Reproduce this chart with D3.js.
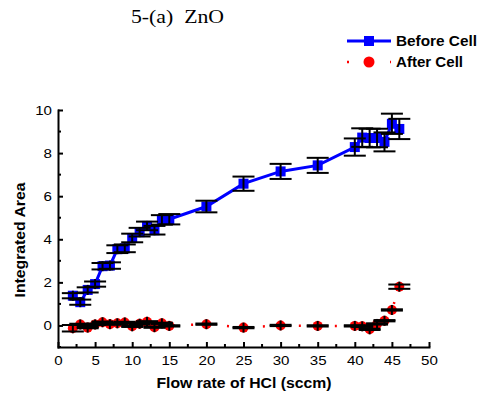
<!DOCTYPE html>
<html>
<head>
<meta charset="utf-8">
<script src="https://cdn.jsdelivr.net/npm/d3@7"></script>
<style>
  body { margin: 0; background: #fff; }
  svg { display: block; }
  .axis text { font-family: "Liberation Sans", Arial, sans-serif; font-size: 13px; fill: #000; }
  .axis path, .axis line { stroke: #000; stroke-width: 2; }
</style>
</head>
<body>
<div class="chartWrapper"></div>
<script>
// data
var flowRate = [2,3,4,5,6,7,8,9,10,11,12,13,14,15,20,25,30,35,40,41,42,43,44,45,46];
var beforeCell = [1.38,1.08,1.65,1.92,2.75,2.78,3.54,3.58,4.06,4.33,4.62,4.42,4.9,4.93,5.52,6.58,7.15,7.43,8.28,8.72,8.7,8.7,8.52,9.36,9.12];
var beforeErr = [0.12,0.12,0.12,0.12,0.15,0.15,0.18,0.18,0.2,0.2,0.2,0.2,0.22,0.24,0.27,0.33,0.35,0.35,0.4,0.43,0.43,0.43,0.44,0.47,0.47];
var afterCell = [-0.13,0.05,-0.1,0.05,0.15,0.06,0.1,0.14,-0.04,0.08,0.17,-0.08,0.1,-0.02,0.06,-0.1,0.0,-0.02,-0.02,-0.04,-0.18,0.07,0.22,0.72,1.8];
var afterErr = [0.15,0.03,0.03,0.03,0.03,0.03,0.03,0.03,0.03,0.03,0.03,0.03,0.03,0.03,0.03,0.03,0.03,0.03,0.03,0.03,0.03,0.03,0.03,0.03,0.1];
var xTicks = [0,5,10,15,20,25,30,35,40,45,50];
var yTicks = [0,2,4,6,8,10];
var seriesNames = ['Before Cell','After Cell'];

var width = 485, height = 399;
var padding = { top: 110, right: 56, bottom: 52, left: 58 };

var svg = d3.select('.chartWrapper')
  .append('svg')
  .attr('width', width)
  .attr('height', height);

var xScale = d3.scaleLinear()
  .domain([0, 50])
  .range([padding.left, width - padding.right]);
var yScale = d3.scaleLinear()
  .domain([-1, 10])
  .range([height - padding.bottom, padding.top]);

// title
svg.append('text')
  .attr('x', 131)
  .attr('y', 23)
  .attr('font-family', '"Liberation Serif", "Times New Roman", serif')
  .attr('font-size', '18px')
  .attr('xml:space', 'preserve')
  .attr('textLength', 93)
  .attr('lengthAdjust', 'spacingAndGlyphs')
  .text('5-(a)  ZnO');

// minor ticks
var xMinor = d3.range(2.5, 50, 5);
var yMinor = [-1, 1, 3, 5, 7, 9];
svg.append('g').selectAll('line').data(xMinor).enter().append('line')
  .attr('x1', function (d) { return xScale(d); })
  .attr('x2', function (d) { return xScale(d); })
  .attr('y1', yScale(-1))
  .attr('y2', yScale(-1) - 3)
  .attr('stroke', '#000').attr('stroke-width', 2);
svg.append('g').selectAll('line').data(yMinor).enter().append('line')
  .attr('x1', xScale(0))
  .attr('x2', xScale(0) + 3)
  .attr('y1', function (d) { return yScale(d); })
  .attr('y2', function (d) { return yScale(d); })
  .attr('stroke', '#000').attr('stroke-width', 2);

// axes
var xAxis = d3.axisBottom(xScale).tickValues(xTicks).tickSizeInner(-5).tickSizeOuter(0).tickPadding(9);
var yAxis = d3.axisLeft(yScale).tickValues(yTicks).tickSizeInner(-5).tickSizeOuter(0).tickPadding(6);
svg.append('g')
  .attr('class', 'axis xAxis')
  .attr('transform', 'translate(0,' + yScale(-1) + ')')
  .call(xAxis);
svg.append('g')
  .attr('class', 'axis yAxis')
  .attr('transform', 'translate(' + xScale(0) + ',0)')
  .call(yAxis);
svg.selectAll('.axis .domain').attr('stroke-linecap', 'square');
// the original glyphs are a bit wider than Liberation Sans
svg.selectAll('.axis .tick text')
  .attr('textLength', function () { return this.textContent.length * 8.4; })
  .attr('lengthAdjust', 'spacingAndGlyphs');

// axis titles
svg.append('text')
  .attr('x', 244)
  .attr('y', 388)
  .attr('text-anchor', 'middle')
  .attr('font-family', '"Liberation Sans", Arial, sans-serif')
  .attr('font-size', '14.5px')
  .attr('font-weight', 'bold')
  .attr('textLength', 175)
  .attr('lengthAdjust', 'spacingAndGlyphs')
  .text('Flow rate of HCl (sccm)');
svg.append('text')
  .attr('transform', 'translate(25,240) rotate(-90)')
  .attr('text-anchor', 'middle')
  .attr('font-family', '"Liberation Sans", Arial, sans-serif')
  .attr('font-size', '14px')
  .attr('font-weight', 'bold')
  .attr('textLength', 115)
  .attr('lengthAdjust', 'spacingAndGlyphs')
  .text('Integrated Area');

function drawSeries(values, errs, color, isSquare, dash) {
  var pts = flowRate.map(function (x, i) { return { x: x, y: values[i], e: errs[i] }; });
  var line = d3.line()
    .x(function (d) { return xScale(d.x); })
    .y(function (d) { return yScale(d.y); });
  var path = svg.append('path')
    .datum(pts)
    .attr('fill', 'none')
    .attr('stroke', color)
    .attr('d', line);
  if (dash) {
    path.attr('stroke-width', 2.5).attr('stroke-dasharray', dash);
  } else {
    path.attr('stroke-width', 3);
  }
  var g = svg.append('g');
  if (isSquare) {
    g.selectAll('rect').data(pts).enter().append('rect')
      .attr('x', function (d) { return xScale(d.x) - 5; })
      .attr('y', function (d) { return yScale(d.y) - 5; })
      .attr('width', 10).attr('height', 10)
      .attr('fill', color);
  } else {
    g.selectAll('circle').data(pts).enter().append('circle')
      .attr('cx', function (d) { return xScale(d.x); })
      .attr('cy', function (d) { return yScale(d.y); })
      .attr('r', 5)
      .attr('fill', color);
  }
  // error bars
  var eb = svg.append('g').attr('stroke', '#000').attr('stroke-width', 2);
  eb.selectAll('.v').data(pts).enter().append('line')
    .attr('x1', function (d) { return xScale(d.x); })
    .attr('x2', function (d) { return xScale(d.x); })
    .attr('y1', function (d) { return Math.min(yScale(d.y + d.e), yScale(d.y) - 5); })
    .attr('y2', function (d) { return Math.max(yScale(d.y - d.e), yScale(d.y) + 5); });
  eb.selectAll('.t').data(pts).enter().append('line')
    .attr('x1', function (d) { return xScale(d.x) - 11; })
    .attr('x2', function (d) { return xScale(d.x) + 11; })
    .attr('y1', function (d) { return yScale(d.y + d.e); })
    .attr('y2', function (d) { return yScale(d.y + d.e); });
  eb.selectAll('.b').data(pts).enter().append('line')
    .attr('x1', function (d) { return xScale(d.x) - 11; })
    .attr('x2', function (d) { return xScale(d.x) + 11; })
    .attr('y1', function (d) { return yScale(d.y - d.e); })
    .attr('y2', function (d) { return yScale(d.y - d.e); });
}

drawSeries(afterCell, afterErr, '#ff0000', false, '2,16');
drawSeries(beforeCell, beforeErr, '#0000ff', true, null);

// legend
var legend = svg.append('g').attr('font-family', '"Liberation Sans", Arial, sans-serif')
  .attr('font-size', '14px').attr('font-weight', 'bold')
  .attr('lengthAdjust', 'spacingAndGlyphs');
legend.append('line').attr('x1', 347).attr('x2', 391).attr('y1', 41).attr('y2', 41)
  .attr('stroke', '#0000ff').attr('stroke-width', 3);
legend.append('rect').attr('x', 364).attr('y', 36).attr('width', 10).attr('height', 10).attr('fill', '#0000ff');
legend.append('text').attr('x', 396).attr('y', 46).attr('textLength', 81)
  .attr('lengthAdjust', 'spacingAndGlyphs').text(seriesNames[0]);
legend.append('line').attr('x1', 347).attr('x2', 391).attr('y1', 62).attr('y2', 62)
  .attr('stroke', '#ff0000').attr('stroke-width', 2.5).attr('stroke-dasharray', '2,19.5');
legend.append('circle').attr('cx', 369).attr('cy', 62).attr('r', 5.5).attr('fill', '#ff0000');
legend.append('text').attr('x', 396).attr('y', 67).attr('textLength', 67)
  .attr('lengthAdjust', 'spacingAndGlyphs').text(seriesNames[1]);
</script>
</body>
</html>
